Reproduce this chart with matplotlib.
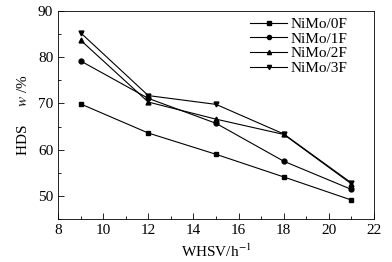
import matplotlib.pyplot as plt
from matplotlib.ticker import MultipleLocator

plt.rcParams['font.family'] = ['Liberation Serif', 'DejaVu Serif']
plt.rcParams['mathtext.fontset'] = 'stix'

whsv = [9, 12, 15, 18, 21]
hds_0f = [69.9, 63.6, 59.0, 54.1, 49.1]
hds_1f = [79.2, 71.1, 65.7, 57.5, 51.4]
hds_2f = [83.7, 70.3, 66.6, 63.3, 52.6]
hds_3f = [85.3, 71.7, 69.8, 63.4, 52.8]
labels = ['NiMo/0F', 'NiMo/1F', 'NiMo/2F', 'NiMo/3F']
markers = ['s', 'o', '^', 'v']

fig = plt.figure(figsize=(3.92, 2.62), dpi=100)
ax = fig.add_axes([58/392, 1 - 219/262, 316/392, 208/262])

for ys, lab, m in zip([hds_0f, hds_1f, hds_2f, hds_3f], labels, markers):
    ax.plot(whsv, ys, color='black', lw=0.8, marker=m, ms=3.5, label=lab)

ax.set_xlim(8, 22)
ax.set_ylim(45, 90)
ax.xaxis.set_major_locator(MultipleLocator(2))
ax.xaxis.set_minor_locator(MultipleLocator(1))
ax.yaxis.set_major_locator(MultipleLocator(10))
ax.yaxis.set_minor_locator(MultipleLocator(5))
ax.tick_params(which='both', direction='in', labelsize=11, width=0.6)
ax.tick_params(which='major', length=4)
ax.tick_params(which='minor', length=2.5)
for s in ax.spines.values():
    s.set_linewidth(0.6)

ax.set_xlabel('WHSV/h$^{-1}$', fontsize=11)
ax.set_ylabel('HDS     $w$ /%', fontsize=11, labelpad=6)

ax.legend(loc='upper right', frameon=False, fontsize=11, handlelength=2.4,
          labelspacing=0.06, borderaxespad=0.6, handletextpad=0.2,
          markerscale=0.85, bbox_to_anchor=(0.963, 1.043))

fig.savefig('out.png', dpi=100)
